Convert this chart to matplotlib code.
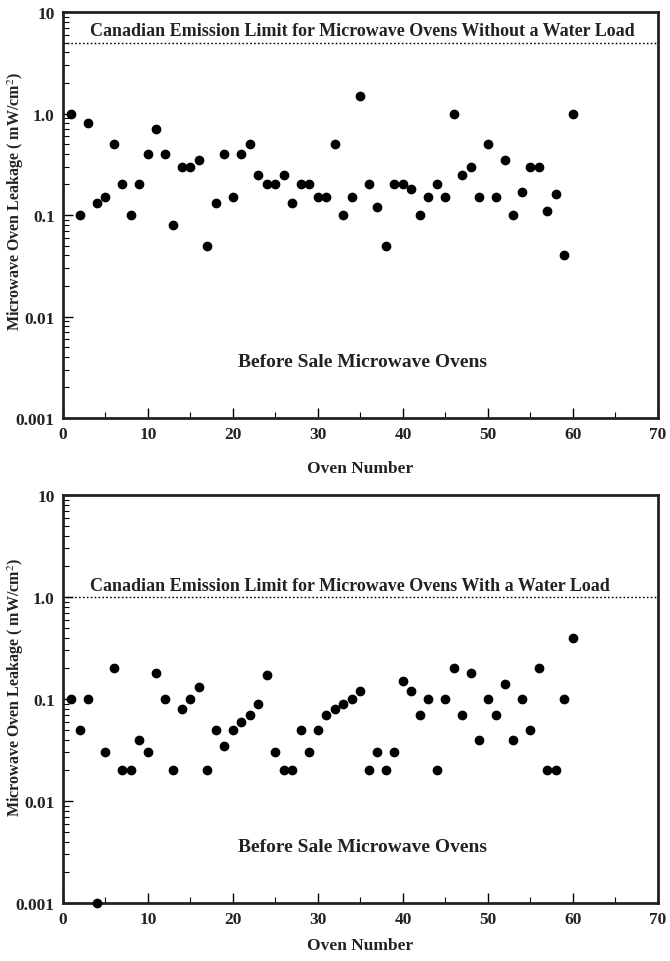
import matplotlib
matplotlib.use("Agg")
import matplotlib.pyplot as plt
from matplotlib.ticker import FixedLocator, FixedFormatter, LogLocator, MultipleLocator, NullFormatter

oven_numbers = list(range(1, 61))

without_water_load = [1.0, 0.1, 0.8, 0.13, 0.15, 0.5, 0.2, 0.1, 0.2, 0.4,
                      0.7, 0.4, 0.08, 0.3, 0.3, 0.35, 0.05, 0.13, 0.4, 0.15,
                      0.4, 0.5, 0.25, 0.2, 0.2, 0.25, 0.13, 0.2, 0.2, 0.15,
                      0.15, 0.5, 0.1, 0.15, 1.5, 0.2, 0.12, 0.05, 0.2, 0.2,
                      0.18, 0.1, 0.15, 0.2, 0.15, 1.0, 0.25, 0.3, 0.15, 0.5,
                      0.15, 0.35, 0.1, 0.17, 0.3, 0.3, 0.11, 0.16, 0.04, 1.0]

with_water_load = [0.1, 0.05, 0.1, 0.001, 0.03, 0.2, 0.02, 0.02, 0.04, 0.03,
                   0.18, 0.1, 0.02, 0.08, 0.1, 0.13, 0.02, 0.05, 0.035, 0.05,
                   0.06, 0.07, 0.09, 0.17, 0.03, 0.02, 0.02, 0.05, 0.03, 0.05,
                   0.07, 0.08, 0.09, 0.1, 0.12, 0.02, 0.03, 0.02, 0.03, 0.15,
                   0.12, 0.07, 0.1, 0.02, 0.1, 0.2, 0.07, 0.18, 0.04, 0.1,
                   0.07, 0.14, 0.04, 0.1, 0.05, 0.2, 0.02, 0.02, 0.1, 0.4]

limit_without = 5.0
limit_with = 1.0
limit_text_without = "Canadian Emission Limit for Microwave Ovens Without a Water Load"
limit_text_with = "Canadian Emission Limit for Microwave Ovens With a Water Load"
panel_text = "Before Sale Microwave Ovens"
x_label = "Oven Number"
y_label = "Microwave Oven Leakage ( mW/cm$^2$)"
y_tick_values = [0.001, 0.01, 0.1, 1.0, 10]
y_tick_labels = ["0.001", "0.01", "0.1", "1.0", "10"]

plt.rcParams['font.family'] = ['Liberation Serif', 'DejaVu Serif']
plt.rcParams['mathtext.fontset'] = 'stix'

fig = plt.figure(figsize=(6.7, 9.62), dpi=100)
ax_top = fig.add_axes([0.094, 0.5644, 0.888, 0.4221])
ax_bot = fig.add_axes([0.094, 0.0603, 0.888, 0.4241])


def style(ax, values, limit, limit_text, label_y, xpad):
    ax.set_yscale('log')
    ax.set_xlim(0, 70)
    ax.set_ylim(0.001, 10)
    ax.plot(oven_numbers, values, 'o', color='black', ms=6, clip_on=False, zorder=3)
    ax.axhline(limit, color='black', lw=1.0, ls=(0, (1.2, 1.6)))
    ax.text(3.2, limit * 1.08, limit_text, fontsize=13.0, fontweight='bold',
            ha='left', va='bottom', color='#222222')
    ax.text(35.2, 0.0036, panel_text, fontsize=14, fontweight='bold',
            ha='center', va='center', color='#222222')
    ax.yaxis.set_major_locator(FixedLocator(y_tick_values))
    ax.yaxis.set_major_formatter(FixedFormatter(y_tick_labels))
    ax.yaxis.set_minor_locator(LogLocator(base=10, subs=[2, 3, 4, 5, 6, 7, 8, 9]))
    ax.yaxis.set_minor_formatter(NullFormatter())
    ax.xaxis.set_major_locator(MultipleLocator(10))
    ax.xaxis.set_minor_locator(MultipleLocator(5))
    ax.tick_params(axis='both', which='major', direction='in', length=7, width=1.0,
                   labelsize=12.5, top=False, right=False, pad=6)
    ax.tick_params(axis='both', which='minor', direction='in', length=4, width=0.8,
                   top=False, right=False)
    for lab in ax.get_xticklabels() + ax.get_yticklabels():
        lab.set_fontweight('bold')
        lab.set_color('#222222')
    for s in ax.spines.values():
        s.set_linewidth(2.0)
        s.set_color('#222222')
    ax.set_xlabel(x_label, fontsize=12.5, fontweight='bold', labelpad=xpad, color='#222222')
    ax.set_ylabel(y_label, fontsize=11.5, fontweight='bold', color='#222222')
    ax.yaxis.set_label_coords(-0.062, label_y)


style(ax_top, without_water_load, limit_without, limit_text_without, 0.535, 13)
style(ax_bot, with_water_load, limit_with, limit_text_with, 0.53, 7)

fig.savefig("out.png", dpi=100, facecolor='white')
